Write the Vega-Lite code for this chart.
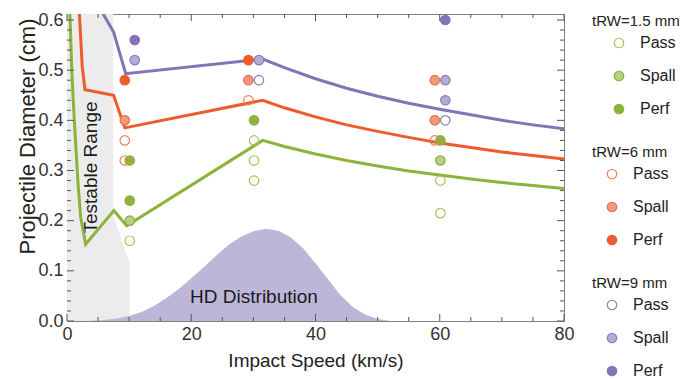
{
  "$schema": "https://vega.github.io/schema/vega-lite/v6.json",
  "usermeta": {"embedOptions": {"actions": false}},
  "width": 497,
  "height": 307,
  "autosize": {"type": "none"},
  "padding": {"left": 67, "top": 14, "right": 119, "bottom": 58},
  "background": "white",
  "config": {
    "font": "Liberation Sans",
    "view": {"stroke": "#808080", "strokeWidth": 1},
    "axis": {
      "grid": false, "domain": false, "ticks": false, "zindex": 2,
      "labelColor": "#333333", "titleColor": "#222222",
      "labelFont": "Liberation Sans", "titleFont": "Liberation Sans",
      "labelFontSize": 18, "titleFontSize": 19, "titleFontWeight": "normal",
      "labelOverlap": false, "labelFlush": false
    },
    "legend": {
      "orient": "right", "offset": 28,
      "titleFont": "Liberation Sans", "labelFont": "Liberation Sans",
      "titleFontSize": 15, "titleFontWeight": "normal", "titleColor": "#222222",
      "labelFontSize": 16, "labelColor": "#222222",
      "symbolSize": 90, "symbolStrokeWidth": 1.2, "symbolType": "circle",
      "rowPadding": 17, "titlePadding": 6, "labelOffset": 13,
      "layout": {"right": {"anchor": "start", "direction": "vertical", "margin": 28}}
    }
  },
  "datasets": {
    "testable": [
      {"d": 0, "v": 10.1}, {"d": 0.115, "v": 10.1}, {"d": 0.21, "v": 7.45}, {"d": 0.62, "v": 7.45}
    ],
    "hd": [
      {"v": 3, "d": 0}, {"v": 6, "d": 0.002}, {"v": 8, "d": 0.005}, {"v": 10, "d": 0.01},
      {"v": 12, "d": 0.018}, {"v": 14, "d": 0.03}, {"v": 16, "d": 0.046}, {"v": 18, "d": 0.064},
      {"v": 20, "d": 0.085}, {"v": 22, "d": 0.107}, {"v": 24, "d": 0.13}, {"v": 26, "d": 0.152},
      {"v": 28, "d": 0.168}, {"v": 30, "d": 0.179}, {"v": 32, "d": 0.184}, {"v": 34, "d": 0.18},
      {"v": 36, "d": 0.167}, {"v": 38, "d": 0.145}, {"v": 40, "d": 0.115}, {"v": 42, "d": 0.083},
      {"v": 44, "d": 0.052}, {"v": 46, "d": 0.028}, {"v": 48, "d": 0.013}, {"v": 50, "d": 0.004},
      {"v": 52, "d": 0}
    ],
    "labels": [
      {"v": 3.9, "d": 0.306, "text": "Testable Range", "angle": 270},
      {"v": 30.1, "d": 0.047, "text": "HD Distribution", "angle": 0}
    ],
    "xticks": [
      {"v": 0, "k": "major"}, {"v": 5, "k": "minor"}, {"v": 10, "k": "minor"}, {"v": 15, "k": "minor"},
      {"v": 20, "k": "major"}, {"v": 25, "k": "minor"}, {"v": 30, "k": "minor"}, {"v": 35, "k": "minor"},
      {"v": 40, "k": "major"}, {"v": 45, "k": "minor"}, {"v": 50, "k": "minor"}, {"v": 55, "k": "minor"},
      {"v": 60, "k": "major"}, {"v": 65, "k": "minor"}, {"v": 70, "k": "minor"}, {"v": 75, "k": "minor"},
      {"v": 80, "k": "major"}
    ],
    "yticks": [
      {"d": 0, "k": "major"}, {"d": 0.02, "k": "minor"}, {"d": 0.04, "k": "minor"}, {"d": 0.06, "k": "minor"}, {"d": 0.08, "k": "minor"},
      {"d": 0.1, "k": "major"}, {"d": 0.12, "k": "minor"}, {"d": 0.14, "k": "minor"}, {"d": 0.16, "k": "minor"}, {"d": 0.18, "k": "minor"},
      {"d": 0.2, "k": "major"}, {"d": 0.22, "k": "minor"}, {"d": 0.24, "k": "minor"}, {"d": 0.26, "k": "minor"}, {"d": 0.28, "k": "minor"},
      {"d": 0.3, "k": "major"}, {"d": 0.32, "k": "minor"}, {"d": 0.34, "k": "minor"}, {"d": 0.36, "k": "minor"}, {"d": 0.38, "k": "minor"},
      {"d": 0.4, "k": "major"}, {"d": 0.42, "k": "minor"}, {"d": 0.44, "k": "minor"}, {"d": 0.46, "k": "minor"}, {"d": 0.48, "k": "minor"},
      {"d": 0.5, "k": "major"}, {"d": 0.52, "k": "minor"}, {"d": 0.54, "k": "minor"}, {"d": 0.56, "k": "minor"}, {"d": 0.58, "k": "minor"},
      {"d": 0.6, "k": "major"}
    ],
    "curves": [
      {"g": "1.5", "v": 0.42, "d": 0.63}, {"g": "1.5", "v": 0.75, "d": 0.507}, {"g": "1.5", "v": 1.0, "d": 0.44},
      {"g": "1.5", "v": 1.3, "d": 0.374}, {"g": "1.5", "v": 1.77, "d": 0.275}, {"g": "1.5", "v": 2.2, "d": 0.207},
      {"g": "1.5", "v": 3.0, "d": 0.153}, {"g": "1.5", "v": 7.55, "d": 0.22}, {"g": "1.5", "v": 9.6, "d": 0.19},
      {"g": "1.5", "v": 31.5, "d": 0.36}, {"g": "1.5", "v": 35, "d": 0.348}, {"g": "1.5", "v": 40, "d": 0.333},
      {"g": "1.5", "v": 45, "d": 0.32}, {"g": "1.5", "v": 50, "d": 0.309}, {"g": "1.5", "v": 55, "d": 0.299},
      {"g": "1.5", "v": 60, "d": 0.291}, {"g": "1.5", "v": 65, "d": 0.283}, {"g": "1.5", "v": 70, "d": 0.276},
      {"g": "1.5", "v": 75, "d": 0.27}, {"g": "1.5", "v": 80, "d": 0.264},
      {"g": "6", "v": 1.92, "d": 0.63}, {"g": "6", "v": 2.45, "d": 0.507}, {"g": "6", "v": 2.9, "d": 0.461},
      {"g": "6", "v": 7.5, "d": 0.45}, {"g": "6", "v": 9.3, "d": 0.385}, {"g": "6", "v": 31.5, "d": 0.44},
      {"g": "6", "v": 35, "d": 0.425}, {"g": "6", "v": 40, "d": 0.407}, {"g": "6", "v": 45, "d": 0.391},
      {"g": "6", "v": 50, "d": 0.378}, {"g": "6", "v": 55, "d": 0.366}, {"g": "6", "v": 60, "d": 0.355},
      {"g": "6", "v": 65, "d": 0.346}, {"g": "6", "v": 70, "d": 0.337}, {"g": "6", "v": 75, "d": 0.33},
      {"g": "6", "v": 80, "d": 0.323},
      {"g": "9", "v": 5.55, "d": 0.618}, {"g": "9", "v": 7.5, "d": 0.576}, {"g": "9", "v": 9.45, "d": 0.493},
      {"g": "9", "v": 31.5, "d": 0.522}, {"g": "9", "v": 35, "d": 0.505}, {"g": "9", "v": 40, "d": 0.483},
      {"g": "9", "v": 45, "d": 0.464}, {"g": "9", "v": 50, "d": 0.448}, {"g": "9", "v": 55, "d": 0.434},
      {"g": "9", "v": 60, "d": 0.422}, {"g": "9", "v": 65, "d": 0.411}, {"g": "9", "v": 70, "d": 0.4},
      {"g": "9", "v": 75, "d": 0.391}, {"g": "9", "v": 80, "d": 0.383}
    ],
    "pts": [
      {"g": "1.5", "v": 10.1, "d": 0.16, "status": "Pass"},
      {"g": "1.5", "v": 10.1, "d": 0.2, "status": "Spall"},
      {"g": "1.5", "v": 10.1, "d": 0.24, "status": "Perf"},
      {"g": "1.5", "v": 10.1, "d": 0.32, "status": "Perf"},
      {"g": "1.5", "v": 30.1, "d": 0.28, "status": "Pass"},
      {"g": "1.5", "v": 30.1, "d": 0.32, "status": "Pass"},
      {"g": "1.5", "v": 30.1, "d": 0.36, "status": "Pass"},
      {"g": "1.5", "v": 30.1, "d": 0.4, "status": "Perf"},
      {"g": "1.5", "v": 60.1, "d": 0.215, "status": "Pass"},
      {"g": "1.5", "v": 60.1, "d": 0.28, "status": "Pass"},
      {"g": "1.5", "v": 60.1, "d": 0.32, "status": "Spall"},
      {"g": "1.5", "v": 60.1, "d": 0.36, "status": "Perf"},
      {"g": "6", "v": 9.3, "d": 0.32, "status": "Pass"},
      {"g": "6", "v": 9.3, "d": 0.36, "status": "Pass"},
      {"g": "6", "v": 9.3, "d": 0.4, "status": "Spall"},
      {"g": "6", "v": 9.3, "d": 0.48, "status": "Perf"},
      {"g": "6", "v": 29.2, "d": 0.44, "status": "Pass"},
      {"g": "6", "v": 29.2, "d": 0.48, "status": "Spall"},
      {"g": "6", "v": 29.2, "d": 0.52, "status": "Perf"},
      {"g": "6", "v": 59.2, "d": 0.36, "status": "Pass"},
      {"g": "6", "v": 59.2, "d": 0.4, "status": "Spall"},
      {"g": "6", "v": 59.2, "d": 0.48, "status": "Spall"},
      {"g": "9", "v": 10.9, "d": 0.52, "status": "Spall"},
      {"g": "9", "v": 10.9, "d": 0.56, "status": "Perf"},
      {"g": "9", "v": 30.9, "d": 0.48, "status": "Pass"},
      {"g": "9", "v": 30.9, "d": 0.52, "status": "Spall"},
      {"g": "9", "v": 60.9, "d": 0.4, "status": "Pass"},
      {"g": "9", "v": 60.9, "d": 0.44, "status": "Spall"},
      {"g": "9", "v": 60.9, "d": 0.48, "status": "Spall"},
      {"g": "9", "v": 60.9, "d": 0.6, "status": "Perf"}
    ]
  },
  "layer": [
    {
      "data": {"name": "testable"},
      "mark": {"type": "area", "orient": "horizontal", "color": "#ececec", "clip": true},
      "encoding": {
        "x": {"field": "v", "type": "quantitative", "stack": null,
          "scale": {"domain": [0, 80], "nice": false, "zero": false},
          "axis": {"orient": "bottom", "title": "Impact Speed (km/s)",
            "values": [0, 20, 40, 60, 80], "labelPadding": 4, "titlePadding": 8}},
        "y": {"field": "d", "type": "quantitative",
          "scale": {"domain": [0, 0.612], "nice": false, "zero": false},
          "axis": {"orient": "left", "title": "Projectile Diameter (cm)", "titleFontSize": 22, "titleY": 122,
            "values": [0, 0.1, 0.2, 0.3, 0.4, 0.5, 0.6], "format": ".1f",
            "labelPadding": 4, "titlePadding": -2}}
      }
    },
    {
      "data": {"name": "hd"},
      "mark": {"type": "area", "color": "#bdb6d8", "clip": true},
      "encoding": {
        "x": {"field": "v", "type": "quantitative", "axis": null},
        "y": {"field": "d", "type": "quantitative", "stack": null, "axis": null}
      }
    },
    {
      "data": {"name": "labels"},
      "mark": {"type": "text", "fontSize": 19, "font": "Liberation Sans", "color": "#1a1a1a", "align": "center", "baseline": "middle"},
      "encoding": {
        "x": {"field": "v", "type": "quantitative", "axis": null},
        "y": {"field": "d", "type": "quantitative", "axis": null},
        "text": {"field": "text"},
        "angle": {"field": "angle", "type": "quantitative", "scale": null}
      }
    },
    {
      "data": {"name": "curves"},
      "mark": {"type": "line", "strokeWidth": 3, "clip": true},
      "encoding": {
        "x": {"field": "v", "type": "quantitative", "axis": null},
        "y": {"field": "d", "type": "quantitative", "axis": null},
        "stroke": {"field": "g", "type": "nominal", "legend": null,
          "scale": {"domain": ["1.5", "6", "9"], "range": ["#8db33a", "#ef5b2c", "#8672b6"]}}
      }
    },
    {
      "data": {"name": "pts"},
      "transform": [{"filter": "datum.g === '1.5'"}],
      "mark": {"type": "circle", "size": 90, "strokeWidth": 1.2, "opacity": 1},
      "encoding": {
        "x": {"field": "v", "type": "quantitative", "axis": null},
        "y": {"field": "d", "type": "quantitative", "axis": null},
        "fill": {"field": "status", "type": "nominal",
          "scale": {"domain": ["Pass", "Spall", "Perf"], "range": ["transparent", "#b5cf83", "#8db33a"]},
          "legend": {"title": "tRW=1.5 mm", "symbolOffset": 19}},
        "stroke": {"field": "status", "type": "nominal",
          "scale": {"domain": ["Pass", "Spall", "Perf"], "range": ["#a5c55a", "#8aac3e", "#8db33a"]},
          "legend": {"title": "tRW=1.5 mm", "symbolOffset": 19}}
      }
    },
    {
      "data": {"name": "pts"},
      "transform": [{"filter": "datum.g === '6'"}],
      "mark": {"type": "circle", "size": 90, "strokeWidth": 1.2, "opacity": 1},
      "encoding": {
        "x": {"field": "v", "type": "quantitative", "axis": null},
        "y": {"field": "d", "type": "quantitative", "axis": null},
        "fill": {"field": "status", "type": "nominal",
          "scale": {"domain": ["Pass", "Spall", "Perf"], "range": ["transparent", "#f4997b", "#ef5b2c"]},
          "legend": {"title": "tRW=6 mm", "symbolOffset": 12}},
        "stroke": {"field": "status", "type": "nominal",
          "scale": {"domain": ["Pass", "Spall", "Perf"], "range": ["#ef7f5c", "#e0714e", "#ef5b2c"]},
          "legend": {"title": "tRW=6 mm", "symbolOffset": 12}}
      }
    },
    {
      "data": {"name": "pts"},
      "transform": [{"filter": "datum.g === '9'"}],
      "mark": {"type": "circle", "size": 90, "strokeWidth": 1.2, "opacity": 1},
      "encoding": {
        "x": {"field": "v", "type": "quantitative", "axis": null},
        "y": {"field": "d", "type": "quantitative", "axis": null},
        "fill": {"field": "status", "type": "nominal",
          "scale": {"domain": ["Pass", "Spall", "Perf"], "range": ["transparent", "#b4aad6", "#8672b6"]},
          "legend": {"title": "tRW=9 mm", "symbolOffset": 12}},
        "stroke": {"field": "status", "type": "nominal",
          "scale": {"domain": ["Pass", "Spall", "Perf"], "range": ["#8a7cbd", "#8a7cbd", "#8672b6"]},
          "legend": {"title": "tRW=9 mm", "symbolOffset": 12}}
      }
    },
    {
      "data": {"name": "xticks"},
      "transform": [{"filter": "datum.k === 'major'"}],
      "mark": {"type": "tick", "orient": "vertical", "size": 7, "thickness": 1, "color": "#555555", "opacity": 1, "yOffset": -3.5},
      "encoding": {
        "x": {"field": "v", "type": "quantitative", "axis": null},
        "y": {"datum": 0, "type": "quantitative", "axis": null}
      }
    },
    {
      "data": {"name": "xticks"},
      "transform": [{"filter": "datum.k === 'minor'"}],
      "mark": {"type": "tick", "orient": "vertical", "size": 4, "thickness": 1, "color": "#555555", "opacity": 1, "yOffset": -2},
      "encoding": {
        "x": {"field": "v", "type": "quantitative", "axis": null},
        "y": {"datum": 0, "type": "quantitative", "axis": null}
      }
    },
    {
      "data": {"name": "xticks"},
      "transform": [{"filter": "datum.k === 'major'"}],
      "mark": {"type": "tick", "orient": "vertical", "size": 7, "thickness": 1, "color": "#555555", "opacity": 1, "yOffset": 3.5},
      "encoding": {
        "x": {"field": "v", "type": "quantitative", "axis": null},
        "y": {"datum": 0.612, "type": "quantitative", "axis": null}
      }
    },
    {
      "data": {"name": "xticks"},
      "transform": [{"filter": "datum.k === 'minor'"}],
      "mark": {"type": "tick", "orient": "vertical", "size": 4, "thickness": 1, "color": "#555555", "opacity": 1, "yOffset": 2},
      "encoding": {
        "x": {"field": "v", "type": "quantitative", "axis": null},
        "y": {"datum": 0.612, "type": "quantitative", "axis": null}
      }
    },
    {
      "data": {"name": "yticks"},
      "transform": [{"filter": "datum.k === 'major'"}],
      "mark": {"type": "tick", "orient": "horizontal", "size": 7, "thickness": 1, "color": "#555555", "opacity": 1, "xOffset": 3.5},
      "encoding": {
        "y": {"field": "d", "type": "quantitative", "axis": null},
        "x": {"datum": 0, "type": "quantitative", "axis": null}
      }
    },
    {
      "data": {"name": "yticks"},
      "transform": [{"filter": "datum.k === 'minor'"}],
      "mark": {"type": "tick", "orient": "horizontal", "size": 4, "thickness": 1, "color": "#555555", "opacity": 1, "xOffset": 2},
      "encoding": {
        "y": {"field": "d", "type": "quantitative", "axis": null},
        "x": {"datum": 0, "type": "quantitative", "axis": null}
      }
    },
    {
      "data": {"name": "yticks"},
      "transform": [{"filter": "datum.k === 'major'"}],
      "mark": {"type": "tick", "orient": "horizontal", "size": 7, "thickness": 1, "color": "#555555", "opacity": 1, "xOffset": -3.5},
      "encoding": {
        "y": {"field": "d", "type": "quantitative", "axis": null},
        "x": {"datum": 80, "type": "quantitative", "axis": null}
      }
    },
    {
      "data": {"name": "yticks"},
      "transform": [{"filter": "datum.k === 'minor'"}],
      "mark": {"type": "tick", "orient": "horizontal", "size": 4, "thickness": 1, "color": "#555555", "opacity": 1, "xOffset": -2},
      "encoding": {
        "y": {"field": "d", "type": "quantitative", "axis": null},
        "x": {"datum": 80, "type": "quantitative", "axis": null}
      }
    }
  ],
  "resolve": {
    "scale": {"fill": "independent", "stroke": "independent"},
    "axis": {"x": "independent", "y": "independent"},
    "legend": {"fill": "independent", "stroke": "independent"}
  }
}
